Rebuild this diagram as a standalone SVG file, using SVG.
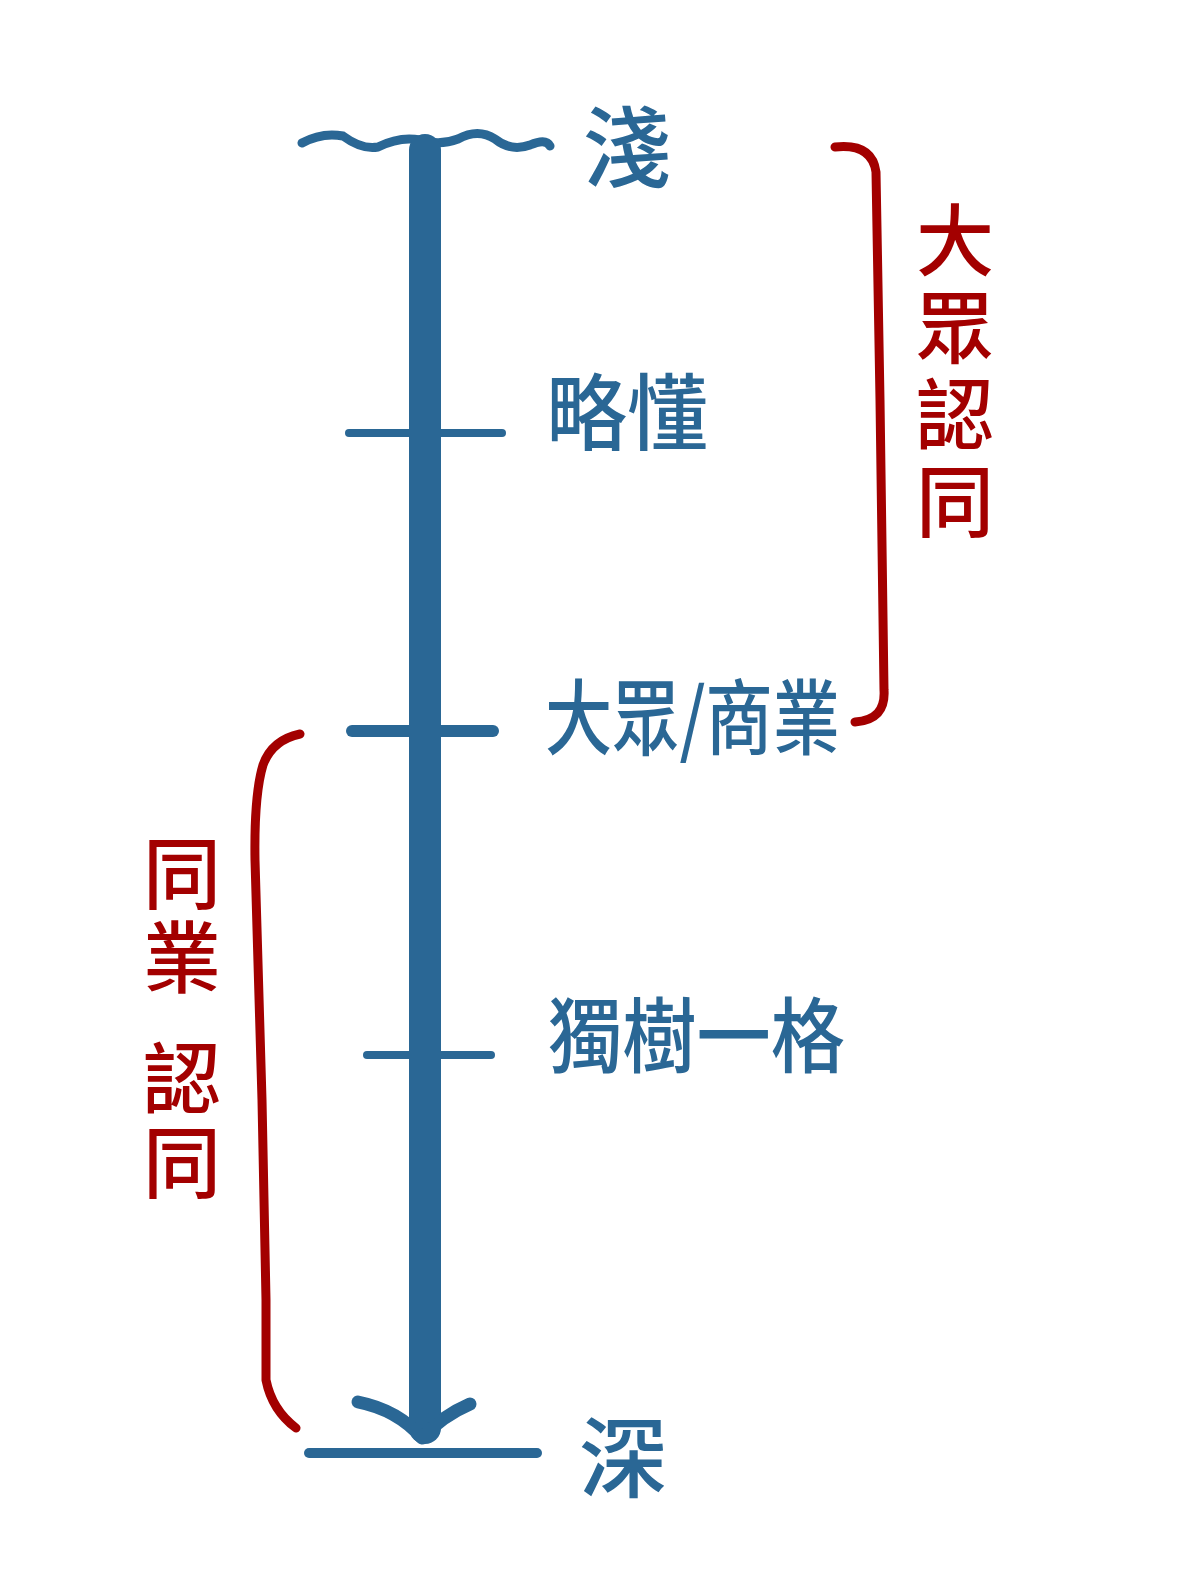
<svg xmlns="http://www.w3.org/2000/svg" width="1200" height="1586" viewBox="0 0 1200 1586">
<style>
.b{stroke:#2A6795;fill:none;stroke-linecap:round;stroke-linejoin:round}
.r{stroke:#A30000;fill:none;stroke-linecap:round;stroke-linejoin:round;stroke-width:9}
.tb{fill:#2A6795;font-family:"Noto Sans CJK TC","Noto Sans CJK SC",sans-serif;font-weight:500}
.tr{fill:#A30000;font-family:"Noto Sans CJK TC","Noto Sans CJK SC",sans-serif;font-weight:500;writing-mode:vertical-rl;font-size:78px}
</style>
<rect width="1200" height="1586" fill="#fff"/>
<g id="connectors">
<path class="b" stroke-width="9" d="M302,143 Q322,132 343,136 Q362,150 378,147 Q400,136 420,140 Q440,146 458,139 Q478,128 495,139 Q511,152 530,145 Q546,138 550,146"/>
<line class="b" x1="425" y1="150" x2="425" y2="1428" stroke-width="32" stroke-linecap="butt"/>
<path class="b" stroke-width="13" d="M358,1402 Q398,1410 422,1438 Q442,1416 470,1404"/>
<line class="b" x1="349" y1="433" x2="502" y2="433" stroke-width="8"/>
<line class="b" x1="352" y1="731" x2="493" y2="731" stroke-width="12"/>
<line class="b" x1="367" y1="1055" x2="491" y2="1055" stroke-width="8"/>
<line class="b" x1="309" y1="1453" x2="537" y2="1453" stroke-width="10"/>
<path class="r" d="M835,147 Q872,143 876,172 L880,400 L884,690 Q886,720 855,722"/>
<path class="r" d="M300,734 Q272,740 263,765 Q254,795 255,860 L262,1100 L266,1300 L266,1380 Q272,1410 296,1428"/>
</g>
<g id="node-shallow"><text class="tb" x="627" y="180" font-size="88" text-anchor="middle">淺</text></g>
<g id="node-basic"><text class="tb" x="546" y="444" font-size="84" textLength="162" lengthAdjust="spacingAndGlyphs">略懂</text></g>
<g id="node-commercial"><text class="tb" x="545" y="748" font-size="82" textLength="295" lengthAdjust="spacingAndGlyphs">大眾/商業</text></g>
<g id="node-unique"><text class="tb" x="548" y="1066" font-size="82" textLength="297" lengthAdjust="spacingAndGlyphs">獨樹一格</text></g>
<g id="node-deep"><text class="tb" x="623" y="1490" font-size="88" text-anchor="middle">深</text></g>
<g id="label-public">
<text class="tr" x="955" y="201" letter-spacing="9">大眾認同</text>
</g>
<g id="label-peer">
<text class="tr" x="182" y="834" letter-spacing="6">同業</text>
<text class="tr" x="182" y="1039" letter-spacing="6">認同</text>
</g>
</svg>
